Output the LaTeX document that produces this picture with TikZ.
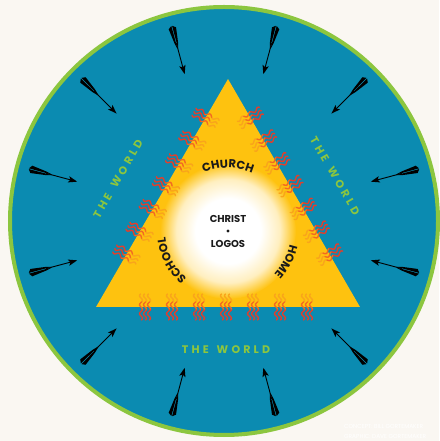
\documentclass[tikz,border=0pt]{standalone}
\usepackage{fontspec}
\setmainfont{Poppins}
\usetikzlibrary{calc,decorations.text}
\definecolor{bg}{HTML}{FAF7F2}
\definecolor{sea}{HTML}{0B8BB1}
\definecolor{lime}{HTML}{8CC63F}
\definecolor{triy}{HTML}{FEC20F}
\definecolor{glowmid}{HTML}{FFEFC0}
\definecolor{flA}{HTML}{F9A51B}
\definecolor{flB}{HTML}{F26A22}
\definecolor{flC}{HTML}{E33E2B}
\definecolor{ink}{HTML}{1A1A1A}
\pgfdeclareradialshading{glow}{\pgfpoint{0bp}{0bp}}{color(0bp)=(white); color(12bp)=(white); color(19bp)=(glowmid); color(25bp)=(triy); color(50bp)=(triy)}
\newcommand\chfont{\fontsize{11.5}{14}\selectfont\bfseries}
\newcommand\wrldtext{T\kern3.2pt H\kern3.2pt E\kern8pt W\kern3.2pt O\kern3.2pt R\kern3.2pt L\kern3.2pt D}
\newcommand\flamegroup{%
  \foreach \o in {-4,0,4}{%
    \draw[flameline,flA] plot[domain=-13:-5,samples=12,smooth] (\x,{\o+1.5*sin(\x*40)});
    \draw[flameline,flB] plot[domain=-5:3,samples=12,smooth] (\x,{\o+1.5*sin(\x*40)});
    \draw[flameline,flC] plot[domain=3:13,samples=14,smooth] (\x,{\o+1.5*sin(\x*40)});
  }}
\tikzset{
  flameline/.style={line width=1.4pt, line cap=round},
  ctext/.style={font=\fontsize{10}{12}\selectfont\bfseries, text=ink, inner sep=0pt},
  world/.style={font=\fontsize{11}{13}\selectfont\bfseries, text=lime, inner sep=0pt},
  credit/.style={font=\fontsize{5.8}{7}\selectfont, text=white, inner sep=0pt, anchor=west},
  arctext/.style={decorate, decoration={text along path, text align=center, text color=ink}}
}
\begin{document}
\begin{tikzpicture}[x=1pt,y=1pt]
\useasboundingbox (0,0) rectangle (439,441);
\fill[bg] (0,0) rectangle (439,441);
\coordinate (C) at (224,220);
\draw[fill=sea, draw=lime, line width=4pt] (C) circle (214);
\coordinate (apex) at (228,362);
\coordinate (bl) at (96,134);
\coordinate (br) at (360,134);
\coordinate (G) at (228,210);
\fill[triy] (apex) -- (bl) -- (br) -- cycle;
\shade[shading=glow] (G) circle (68);
% flames
\foreach \k in {0,...,6}{
  \pgfmathsetmacro\t{0.17+0.1*\k}
  \begin{scope}[shift={($(apex)!\t!(bl)$)}, rotate=150] \flamegroup \end{scope}
  \begin{scope}[shift={($(apex)!\t!(br)$)}, rotate=30] \flamegroup \end{scope}
  \begin{scope}[shift={({145+27*\k},134)}, rotate=-90] \flamegroup \end{scope}
}
% arrows
\foreach \a in {15,45,...,345}{
  \begin{scope}[shift={(C)}, rotate=\a]
    \draw[black, line width=0.9pt] (184,0) -- (158,0);
    \fill[black] (152,0) -- (161,3.2) -- (159,0) -- (161,-3.2) -- cycle;
    \fill[black] (202,0.4) -- (199.5,3.8) -- (184,1.8) -- (178,0.3) -- cycle;
    \fill[black] (202,-0.4) -- (199.5,-3.8) -- (184,-1.8) -- (178,-0.3) -- cycle;
  \end{scope}
}
% centre text
\node[ctext] (christ) at (228,222) {CHRIST};
\fill[ink] (228,210) circle (1.7);
\node[ctext] (logos) at (228,197) {LOGOS};
\path[arctext, decoration={text={|\chfont|CHURCH}}] ($(G)+(125:63)$) arc[start angle=125, end angle=55, radius=63];
\path[arctext, decoration={text={|\chfont|SCHOOL}}] ($(G)+(250:63)$) arc[start angle=250, end angle=165, radius=63];
\path[arctext, decoration={text={|\chfont|HOME}}] ($(G)+(15:63)$) arc[start angle=15, end angle=-70, radius=63];
% the world
\node[world, rotate=60] (wl) at (118,262) {\wrldtext};
\node[world, rotate=-60] (wr) at (335,265) {\wrldtext};
\node[world] (wb) at (226,91) {\wrldtext};
% credits
\node[credit] (cr1) at (344,15) {CONCEPT: BILL GORTEMAKER};
\node[credit] (cr2) at (344,5) {GRAPHIC: DAVE GORTEMAKER};
\end{tikzpicture}
\end{document}
